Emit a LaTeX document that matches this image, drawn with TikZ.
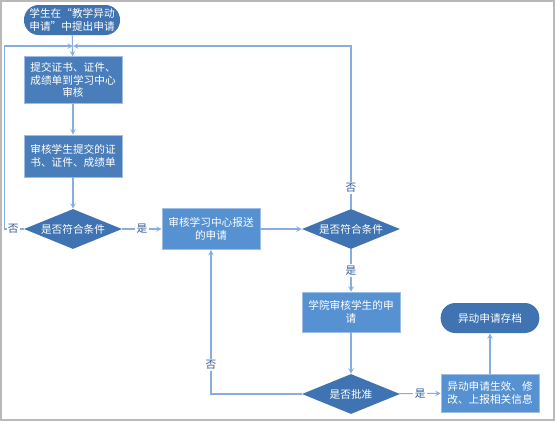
\documentclass[tikz,border=0pt]{standalone}
\usepackage{fontspec}
\usepackage{xcolor}
\usepackage{tikz}
\usetikzlibrary{shapes.geometric}
\newfontfamily\cjk{Noto Sans CJK SC}
\definecolor{boxdark}{HTML}{4A7EBB}
\definecolor{boxlight}{HTML}{5692D2}
\definecolor{diablue}{HTML}{3F73B1}
\definecolor{edgeblue}{HTML}{9DBDE6}
\definecolor{lineblue}{HTML}{86AEDF}
\definecolor{lblblue}{HTML}{2F5C96}

\begin{document}
\begin{tikzpicture}[x=0.75pt,y=-0.75pt,>=stealth,font=\cjk\fontsize{8}{9.5}\selectfont,
  box/.style={rectangle,draw=edgeblue,fill=boxdark,text=white,align=center,
    minimum width=73.5pt,minimum height=31pt,inner sep=1pt},
  term/.style={rectangle,rounded corners=11pt,fill=diablue,text=white,align=center,
    minimum width=73pt,minimum height=22.5pt,inner sep=1pt},
  test/.style={diamond,aspect=2.45,fill=diablue,text=white,
    minimum width=73.5pt,minimum height=30pt,inner sep=0pt},
  flow/.style={->,draw=lineblue,thick},
  lbl/.style={fill=white,text=lblblue,inner sep=1pt}]
\draw[gray!55,thick,fill=white] (1,1) rectangle (554,420);
\useasboundingbox (0,0) rectangle (556,422);

\node[term,minimum width=72pt] (start) at (72,20) {学生在“教学异动\\申请”中提出申请};
\node[box,minimum height=35pt] (b1) at (73,80) {提交证书、证件、\\成绩单到学习中心\\审核};
\node[box,minimum height=31.5pt] (b2) at (73,156) {审核学生提交的证\\书、证件、成绩单};
\node[test] (d1) at (73,229) {是否符合条件};
\node[box,fill=boxlight] (b3) at (211,229) {审核学习中心报送\\的申请};
\node[test] (d2) at (351,229) {是否符合条件};
\node[box,fill=boxlight,minimum height=30pt] (b4) at (351,312) {学院审核学生的申\\请};
\node[test] (d3) at (351,394) {是否批准};
\node[box,fill=boxlight,minimum height=28.5pt] (b5) at (490,393) {异动申请生效、修\\改、上报相关信息};
\node[term,minimum width=74pt] (done) at (490,318) {异动申请存档};
\coordinate (j) at (73,46);

\draw[flow] (start) -- (b1);
\draw[flow] (b1) -- (b2);
\draw[flow] (b2) -- (d1);
\draw[flow] (d1) -- node[lbl]{是} (b3);
\draw[flow] (b3) -- (d2);
\draw[flow] (d2) -- node[lbl]{是} (b4);
\draw[flow] (b4) -- (d3);
\draw[flow] (d3) -- node[lbl]{是} (b5);
\draw[flow] (b5) -- (done);
\draw[flow] (d1.west) -- node[lbl,pos=0.55]{否} ++(-19,0) |- (j);
\draw[flow] (d2.north) -- node[lbl,pos=0.13]{否} (d2.north|-j) -- (j);
\draw[flow] (d3.west) -| node[lbl,pos=0.6]{否} (b3.south);
\end{tikzpicture}
\end{document}
